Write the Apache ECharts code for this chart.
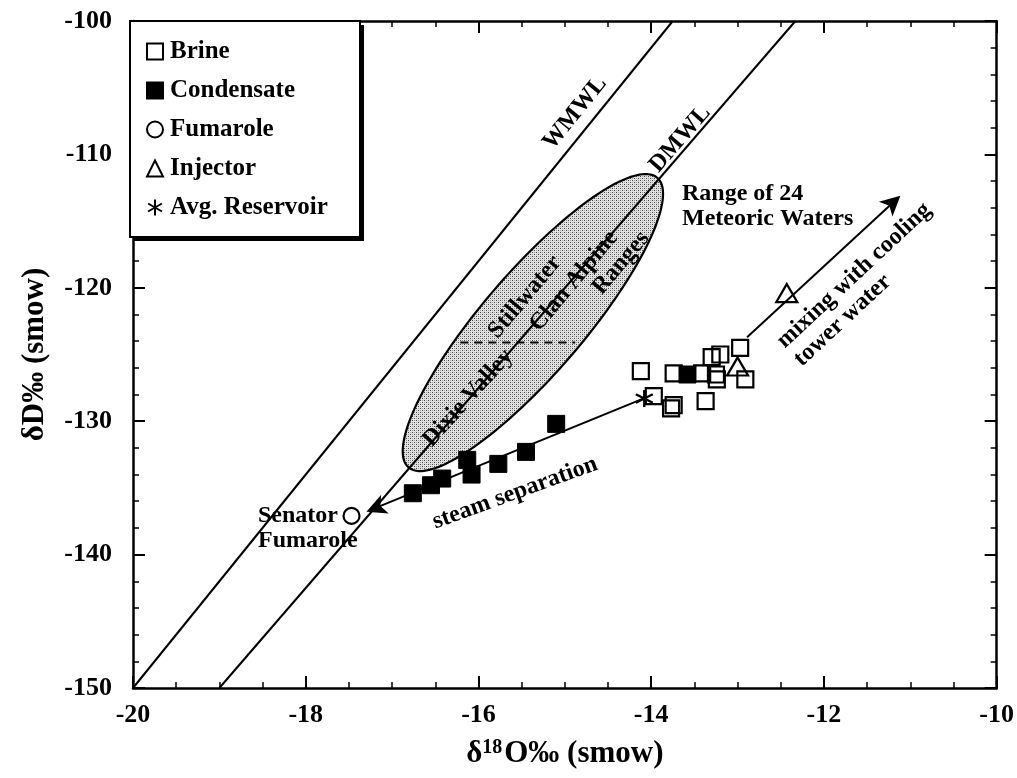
<!DOCTYPE html>
<html><head><meta charset="utf-8">
<script src="https://cdn.jsdelivr.net/npm/echarts@6/dist/echarts.min.js"></script>
<style>html,body{margin:0;padding:0;background:#fff}#c{width:1017px;height:778px}</style>
</head><body><div id="c"></div>
<script>
// ---------- data (δ18O, δD) ----------
const brine = [[-14.12,-126.25],[-13.74,-126.42],[-13.41,-126.42],[-13.30,-125.2],[-13.20,-125.0],
  [-12.97,-124.5],[-13.25,-126.5],[-13.24,-126.87],[-12.91,-126.87],[-13.37,-128.5],
  [-13.97,-128.12],[-13.77,-129.04],[-13.74,-128.8]];
const condensate = [[-16.76,-135.4],[-16.55,-134.8],[-16.42,-134.3],[-16.13,-132.9],[-16.08,-134.0],
  [-15.77,-133.2],[-15.45,-132.3],[-15.10,-130.2],[-13.58,-126.5]];
const fumarole = [[-17.47,-137.1]];
const injector = [[-12.43,-120.4],[-13.0,-125.9]];
const avgReservoir = [[-14.08,-128.3]];
const wmwl = [[-20,-150],[-13.75,-100]];
const dmwl = [[-19,-150],[-12.33,-100]];
const meteoricRangeTips = [[-16.81,-133.46],[-13.93,-111.75]];
const divideLine = [[-16.21,-124.1],[-14.88,-124.1]];
const steamArrow = [[-14.05,-128.2],[-17.19,-136.5]];
const mixingArrow = [[-12.89,-123.7],[-11.20,-113.6]];
const seriesNames = ['Brine','Condensate','Fumarole','Injector','Avg. Reservoir'];

// ---------- styles ----------
const FONT = '"Liberation Serif","Times New Roman",serif';
const ASTER = 'path://M10,0L10,20M1.34,5L18.66,15M1.34,15L18.66,5';
const ARROW = 'path://M0,0L7,20L0,15L-7,20Z';
const ELLIPSE_RATIO = 0.265;

function stipple(){
  const c = document.createElement('canvas'); c.width = 4; c.height = 4;
  const g = c.getContext('2d');
  g.fillStyle = '#e2e2e2'; g.fillRect(0,0,4,4);
  g.fillStyle = '#4a4a4a'; g.fillRect(0,0,1,1); g.fillRect(2,2,1,1);
  g.fillStyle = '#9a9a9a'; g.fillRect(2,0,1,1); g.fillRect(0,2,1,1);
  return {image: c, repeat: 'repeat'};
}

const chart = echarts.init(document.getElementById('c'), null, {renderer:'canvas'});
const axisCommon = {
  type:'value', scale:false,
  axisLine:{show:true, onZero:false, lineStyle:{color:'#000', width:2.5}},
  axisTick:{show:true, inside:true, length:12, lineStyle:{color:'#000', width:2}},
  minorTick:{show:true, length:6, lineStyle:{color:'#000', width:1.5}},
  splitLine:{show:false}, minorSplitLine:{show:false}
};
const labelStyle = {fontFamily:FONT, fontWeight:'bold', fontSize:26, color:'#000'};

const t = (text, x, y, rotDeg, opts) => Object.assign({
  type:'text', x, y, rotation: rotDeg*Math.PI/180, z: 50,
  style: Object.assign({text, font:'bold 24px ' + FONT, fill:'#000', align:'center', verticalAlign:'middle', lineHeight:25}, (opts||{}).style || {})
}, (opts||{}).el || {});

chart.setOption({
  animation:false,
  backgroundColor:'#fff',
  grid:{left:133, right:15, top:21, bottom:90, containLabel:false},
  xAxis:[
    Object.assign({}, axisCommon, {position:'bottom', min:-20, max:-10, interval:2,
      minorTick:Object.assign({}, axisCommon.minorTick, {splitNumber:4}),
      axisLabel:Object.assign({margin:14}, labelStyle),
      name:'{d|δ}{s|18}{d|O‰ (smow)}', nameLocation:'middle', nameGap:50,
      nameTextStyle:{rich:{d:{fontFamily:FONT, fontWeight:'bold', fontSize:31, color:'#000'},
        s:{fontFamily:FONT, fontWeight:'bold', fontSize:20, color:'#000', verticalAlign:'top', padding:[0,2,12,0]}}}}),
    Object.assign({}, axisCommon, {position:'top', min:-20, max:-10, interval:2,
      minorTick:Object.assign({}, axisCommon.minorTick, {splitNumber:4}), axisLabel:{show:false}})
  ],
  yAxis:[
    Object.assign({}, axisCommon, {position:'left', min:-150, max:-100, interval:10,
      minorTick:Object.assign({}, axisCommon.minorTick, {splitNumber:5}),
      axisLabel:Object.assign({margin:21}, labelStyle),
      name:'δD‰ (smow)', nameLocation:'middle', nameGap:83,
      nameTextStyle:{fontFamily:FONT, fontWeight:'bold', fontSize:31, color:'#000'}}),
    Object.assign({}, axisCommon, {position:'right', min:-150, max:-100, interval:10,
      minorTick:Object.assign({}, axisCommon.minorTick, {splitNumber:5}), axisLabel:{show:false}})
  ],
  legend:{
    data: seriesNames, orient:'vertical', left:146, top:39,
    padding:0, itemGap:14, itemWidth:16, itemHeight:16,
    textStyle:{fontFamily:FONT, fontWeight:'bold', fontSize:25, color:'#000', padding:[0,0,0,2]},
    selectedMode:false, z:100
  },
  series:[
    {type:'custom', name:'range', silent:true, z:1, clip:true,
      data:[meteoricRangeTips[0]],
      renderItem:(params, api) => {
        const p1 = api.coord(meteoricRangeTips[0]), p2 = api.coord(meteoricRangeTips[1]);
        const cx=(p1[0]+p2[0])/2, cy=(p1[1]+p2[1])/2;
        const a = Math.hypot(p2[0]-p1[0], p2[1]-p1[1])/2, b = a*ELLIPSE_RATIO;
        const ang = Math.atan2(p2[1]-p1[1], p2[0]-p1[0]);
        const pts=[];
        for(let i=0;i<180;i++){const th=i/180*2*Math.PI, ex=a*Math.cos(th), ey=b*Math.sin(th);
          pts.push([cx+ex*Math.cos(ang)-ey*Math.sin(ang), cy+ex*Math.sin(ang)+ey*Math.cos(ang)]);}
        return {type:'polygon', shape:{points:pts}, style:{fill:stipple(), stroke:'#000', lineWidth:2.2}};
      }},
    {type:'line', name:'WMWL', data:wmwl, symbol:'none', silent:true, z:2, lineStyle:{color:'#000', width:2}},
    {type:'line', name:'DMWL', data:dmwl, symbol:'none', silent:true, z:2, lineStyle:{color:'#000', width:2}},
    {type:'line', name:'divide', data:divideLine, symbol:'none', silent:true, z:2, lineStyle:{color:'#000', width:2, type:[8,6]}},
    {type:'lines', coordinateSystem:'cartesian2d', silent:true, z:3,
      data:[{coords:steamArrow},{coords:mixingArrow}],
      symbol:['none', ARROW], symbolSize:[0,20], lineStyle:{color:'#000', width:2, opacity:1}, itemStyle:{color:'#000'}},
    {type:'scatter', name:'Condensate', data:condensate, symbol:'rect', symbolSize:17, z:4,
      itemStyle:{color:'#000', borderColor:'#000', borderWidth:1, opacity:1}},
    {type:'scatter', name:'Brine', data:brine, symbol:'rect', symbolSize:16, z:5,
      itemStyle:{color:'rgba(255,255,255,0)', borderColor:'#000', borderWidth:2.2, opacity:1}},
    {type:'scatter', name:'Fumarole', data:fumarole, symbol:'circle', symbolSize:16, z:5,
      itemStyle:{color:'#fff', borderColor:'#000', borderWidth:2.2, opacity:1}},
    {type:'scatter', name:'Injector', data:injector, symbol:'triangle', symbolSize:[21,18], z:5,
      itemStyle:{color:'rgba(255,255,255,0)', borderColor:'#000', borderWidth:2.2, opacity:1}},
    {type:'scatter', name:'Avg. Reservoir', data:avgReservoir, symbol:ASTER, symbolSize:17, z:6,
      itemStyle:{color:'rgba(0,0,0,0)', borderColor:'#000', borderWidth:2.4, opacity:1}}
  ],
  graphic:[
    {type:'rect', z:90, shape:{x:134, y:25, width:230, height:216}, style:{fill:'#000'}},
    {type:'rect', z:91, shape:{x:130, y:21, width:230, height:216}, style:{fill:'#fff', stroke:'#000', lineWidth:2}},
    t('WMWL', 575, 113, 51),
    t('DMWL', 680, 139, 49),
    t('Range of 24\nMeteoric Waters', 682, 181, 0, {style:{align:'left', verticalAlign:'top'}}),
    t('Stillwater', 525, 297, 50),
    t('Clan Alpine', 574, 281, 50),
    t('Ranges', 621, 263, 50),
    t('Dixie Valley', 468, 398, 48),
    t('Senator\nFumarole', 258, 503, 0, {style:{align:'left', verticalAlign:'top'}}),
    t('steam separation', 515, 493, 20),
    t('mixing with cooling\ntower water', 772, 335, 43, {style:{align:'left', verticalAlign:'top', lineHeight:25}})
  ]
});
</script></body></html>
